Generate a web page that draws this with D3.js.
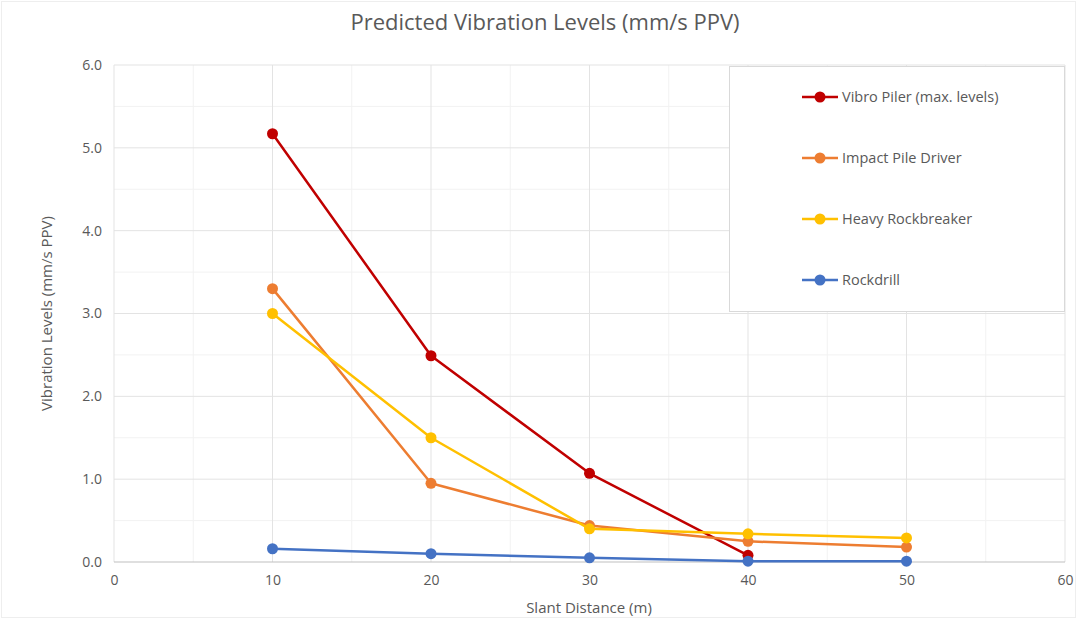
<!DOCTYPE html>
<head>
    <script src="https://d3js.org/d3.v7.min.js"></script>
</head>
<style>
body {
    margin: 0;
    background: #fff;
    font-family: "Open Sans", "Noto Sans", Arial, sans-serif;
}
text { fill: #595959; }
</style>
<body>
<svg></svg>
<script>

    // Data
    var distances = [10, 20, 30, 40, 50];
    var seriesNames = ["Vibro Piler (max. levels)", "Impact Pile Driver", "Heavy Rockbreaker", "Rockdrill"];
    var vibroPiler = [5.17, 2.49, 1.07, 0.08];
    var impactPileDriver = [3.30, 0.95, 0.44, 0.25, 0.18];
    var heavyRockbreaker = [3.00, 1.50, 0.40, 0.34, 0.29];
    var rockdrill = [0.16, 0.10, 0.05, 0.01, 0.01];
    var seriesColors = ["#C00000", "#ED7D31", "#FFC000", "#4472C4"];
    var xTicks = [0, 10, 20, 30, 40, 50, 60];
    var yTicks = [0, 1, 2, 3, 4, 5, 6];

    var width = 1077;
    var height = 619;
    var margin = { top: 65, right: 12, bottom: 57, left: 114 };

    var svg = d3.select('svg')
        .attr('width', width)
        .attr('height', height);

    // faint outer chart border
    svg.append('rect')
        .attr('x', 1.5).attr('y', 1.5)
        .attr('width', width - 3).attr('height', height - 3)
        .attr('fill', 'none')
        .attr('stroke', '#eeeeee');

    var x = d3.scaleLinear().domain([0, 60]).range([margin.left, width - margin.right]);
    var y = d3.scaleLinear().domain([0, 6]).range([height - margin.bottom, margin.top]);

    var grid = svg.append('g');

    // minor gridlines
    grid.selectAll('line.minx').data(d3.range(5, 60, 10)).enter().append('line')
        .attr('x1', function (d) { return x(d); }).attr('x2', function (d) { return x(d); })
        .attr('y1', y(0)).attr('y2', y(6))
        .attr('stroke', '#f2f2f2');
    grid.selectAll('line.miny').data(d3.range(0.5, 6, 1)).enter().append('line')
        .attr('y1', function (d) { return y(d); }).attr('y2', function (d) { return y(d); })
        .attr('x1', x(0)).attr('x2', x(60))
        .attr('stroke', '#f2f2f2');

    // major gridlines
    grid.selectAll('line.majx').data(xTicks).enter().append('line')
        .attr('x1', function (d) { return x(d); }).attr('x2', function (d) { return x(d); })
        .attr('y1', y(0)).attr('y2', y(6))
        .attr('stroke', '#e3e3e3');
    grid.selectAll('line.majy').data(yTicks).enter().append('line')
        .attr('y1', function (d) { return y(d); }).attr('y2', function (d) { return y(d); })
        .attr('x1', x(0)).attr('x2', x(60))
        .attr('stroke', function (d) { return d === 0 ? '#bfbfbf' : '#e3e3e3'; });

    // axes (labels only)
    var xAxis = svg.append('g')
        .attr('transform', 'translate(0,' + y(0) + ')')
        .call(d3.axisBottom(x).tickValues(xTicks).tickSize(0).tickPadding(13));
    var yAxis = svg.append('g')
        .attr('transform', 'translate(' + x(0) + ',0)')
        .call(d3.axisLeft(y).tickValues(yTicks).tickSize(0).tickPadding(12).tickFormat(d3.format('.1f')));
    [xAxis, yAxis].forEach(function (a) {
        a.select('.domain').remove();
        a.selectAll('text')
            .style('font-family', '"Open Sans", Arial, sans-serif')
            .style('font-size', '14px')
            .style('fill', '#595959');
    });

    // titles
    svg.append('text')
        .attr('x', 545).attr('y', 30)
        .attr('text-anchor', 'middle')
        .style('font-size', '22px')
        .text('Predicted Vibration Levels (mm/s PPV)');
    svg.append('text')
        .attr('x', 589).attr('y', 613)
        .attr('text-anchor', 'middle')
        .style('font-size', '15px')
        .text('Slant Distance (m)');
    svg.append('text')
        .attr('transform', 'translate(52,' + ((y(0) + y(6)) / 2) + ')rotate(-90)')
        .attr('text-anchor', 'middle')
        .style('font-size', '15px')
        .text('Vibration Levels (mm/s PPV)');

    var allSeries = [vibroPiler, impactPileDriver, heavyRockbreaker, rockdrill];

    var line = d3.line()
        .x(function (d) { return x(d.x); })
        .y(function (d) { return y(d.y); });

    // legend box
    var legend = svg.append('g');
    legend.append('rect')
        .attr('x', 729.5).attr('y', 66.5)
        .attr('width', 335).attr('height', 245)
        .attr('fill', '#fff')
        .attr('stroke', '#d9d9d9');

    allSeries.forEach(function (vals, i) {
        var pts = vals.map(function (v, j) { return { x: distances[j], y: v }; });
        var g = svg.append('g');
        g.append('path')
            .datum(pts)
            .attr('d', line)
            .attr('fill', 'none')
            .attr('stroke', seriesColors[i])
            .attr('stroke-width', 2.5)
            .attr('stroke-linejoin', 'round');
        g.selectAll('circle').data(pts).enter().append('circle')
            .attr('cx', function (d) { return x(d.x); })
            .attr('cy', function (d) { return y(d.y); })
            .attr('r', 5.5)
            .attr('fill', seriesColors[i]);
    });

    // legend entries
    seriesNames.forEach(function (name, i) {
        var ly = 97 + i * 61;
        var item = legend.append('g');
        item.append('line')
            .attr('x1', 802).attr('x2', 838)
            .attr('y1', ly).attr('y2', ly)
            .attr('stroke', seriesColors[i])
            .attr('stroke-width', 2.5);
        item.append('circle')
            .attr('cx', 820).attr('cy', ly).attr('r', 5.5)
            .attr('fill', seriesColors[i]);
        item.append('text')
            .attr('x', 842).attr('y', ly + 5)
            .style('font-size', '14.5px')
            .text(name);
    });

</script>
</body>
